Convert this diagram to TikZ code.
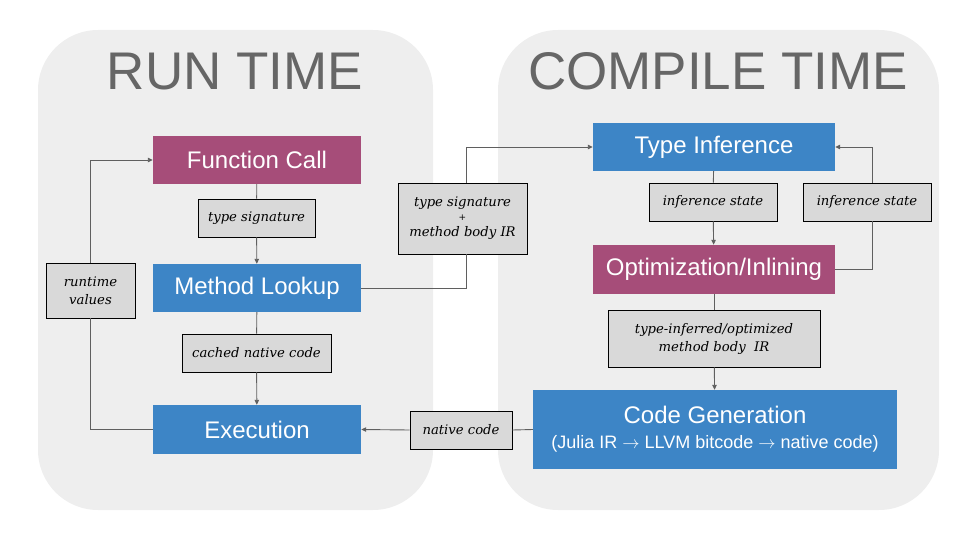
\documentclass[tikz,border=0pt]{standalone}
\usepackage{fontspec}
\setmainfont{Liberation Sans}
\newfontfamily\labelfont{DejaVu Serif}
\usepackage{tikz}
\usetikzlibrary{arrows.meta,positioning}

\definecolor{panelgray}{HTML}{EEEEEE}
\definecolor{titlegray}{HTML}{666666}
\definecolor{stepblue}{HTML}{3D85C6}
\definecolor{stepmagenta}{HTML}{A64D79}
\definecolor{labelgray}{HTML}{D9D9D9}
\definecolor{linegray}{HTML}{5F5F5F}

\begin{document}
\begin{tikzpicture}[x=1pt,y=-1pt,
  panel/.style={fill=panelgray,rounded corners=60pt,inner sep=0pt},
  paneltitle/.style={text=titlegray,font=\fontsize{53}{60}\selectfont,inner sep=0pt,anchor=base},
  stepbox/.style={draw=none,text=white,align=center,inner sep=0pt,font=\fontsize{24}{28}\selectfont},
  bluebox/.style={stepbox,fill=stepblue},
  pinkbox/.style={stepbox,fill=stepmagenta},
  tagbox/.style={draw=black,line width=0.9pt,fill=labelgray,align=center,inner sep=0pt,font=\labelfont\itshape\fontsize{13.2}{18}\selectfont},
  conn/.style={draw=linegray,line width=0.9pt},
  arr/.style={conn,-{Triangle[length=5pt,width=4.5pt]}}]
\useasboundingbox (0,0) rectangle (960,540);

% the two phases
\node[panel,minimum width=395pt,minimum height=480pt] (runpanel) at (235.5,270) {};
\node[panel,minimum width=441pt,minimum height=480pt] (comppanel) at (718.5,270) {};
\node[paneltitle] (runtitle) at (235,90) {RUN TIME};
\node[paneltitle] (comptitle) at (718,90) {COMPILE TIME};

% run time
\node[pinkbox,minimum width=208pt,minimum height=48pt] (fcall) at (257,160) {Function Call};
\node[bluebox,minimum width=208pt,minimum height=48pt] (lookup) at (257,288) {Method Lookup};
\node[bluebox,minimum width=208pt,minimum height=49pt] (exec) at (257,429.5) {Execution};
\node[tagbox,minimum width=117pt,minimum height=38pt] (sig) at (256.5,218) {type signature};
\node[tagbox,minimum width=149pt,minimum height=38pt] (cached) at (256.5,353) {cached native code};
\node[tagbox,minimum width=89pt,minimum height=55pt] (rtvals) at (90.5,290.5) {runtime\\values};

% compile time
\node[bluebox,minimum width=242pt,minimum height=48pt] (typeinf) at (714,147) {Type Inference};
\node[pinkbox,minimum width=242pt,minimum height=49pt] (optim) at (714,269.5) {Optimization/Inlining};
\node[bluebox,minimum width=364pt,minimum height=79pt] (codegen) at (715,429.5) {Code Generation\\[-3pt]{\fontsize{18}{21}\selectfont(Julia IR $\rightarrow$ LLVM bitcode $\rightarrow$ native code)}};
\node[tagbox,minimum width=128pt,minimum height=38pt] (infstate) at (713,202) {inference state};
\node[tagbox,minimum width=128pt,minimum height=38pt] (loopstate) at (867,202) {inference state};
\node[tagbox,minimum width=212pt,minimum height=57pt] (optir) at (714,338.5) {type-inferred/optimized\\method body\ \ IR};

% between the phases
\node[tagbox,minimum width=129pt,minimum height=71pt] (sigir) at (462.5,218.5) {type signature\\[-4pt]{\fontsize{9}{10}\selectfont+}\\[-2pt]method body IR};
\node[tagbox,minimum width=102pt,minimum height=38pt] (native) at (461,430) {native code};

% connectors
\draw[conn] (fcall) -- (sig);
\draw[arr] (sig) -- (lookup);
\draw[conn] (lookup) -- (cached);
\draw[arr] (cached) -- (exec);
\draw[conn] (exec.west) -| (rtvals.south);
\draw[arr] (rtvals.north) |- (fcall.west);
\draw[conn] (lookup.east) -| ([xshift=3.5pt]sigir.south);
\draw[arr] ([xshift=3.5pt]sigir.north) |- (typeinf.west);
\draw[conn] (typeinf) -- (infstate);
\draw[arr] (infstate) -- (optim);
\draw[conn] (optim.east) -| ([xshift=5pt]loopstate.south);
\draw[arr] ([xshift=5pt]loopstate.north) |- (typeinf.east);
\draw[conn] (optim) -- (optir);
\draw[arr] (optir) -- (codegen);
\draw[conn] (codegen.west) -- (native.east);
\draw[arr] (native.west) -- (exec.east);
\end{tikzpicture}
\end{document}
